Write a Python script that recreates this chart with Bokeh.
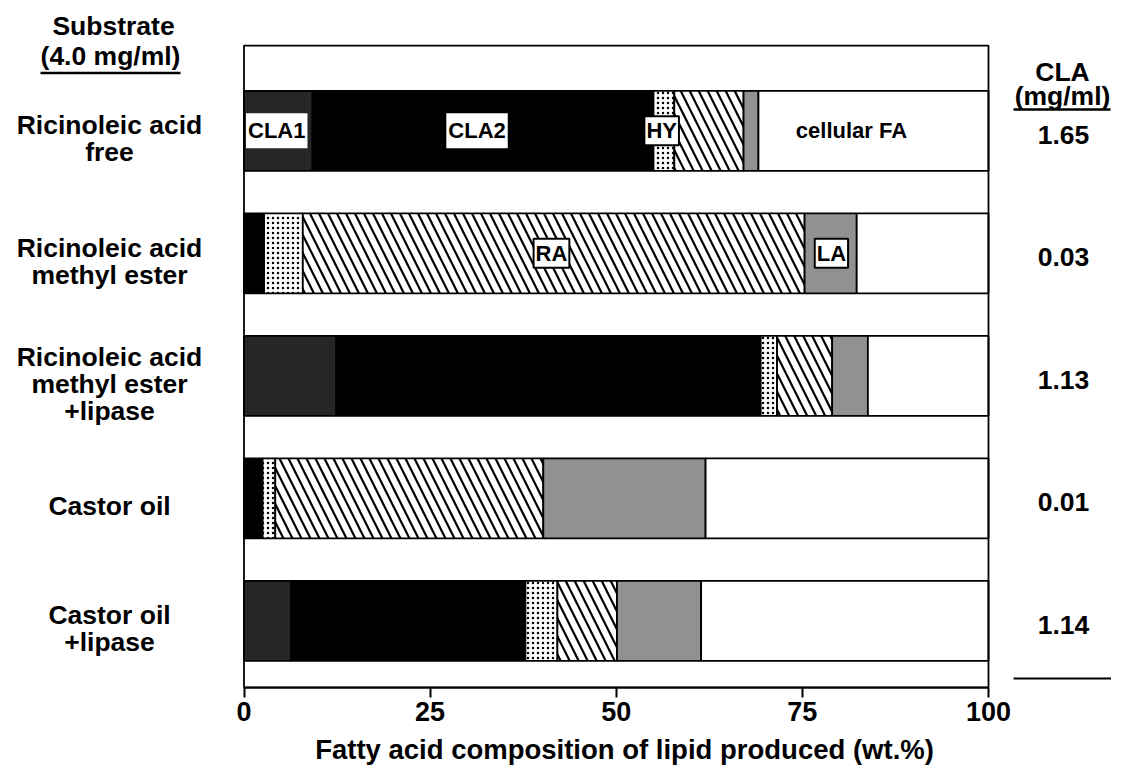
import numpy as np
from bokeh.plotting import figure
from bokeh.models import Range1d, Label, FixedTicker, LinearAxis
from bokeh.embed import file_html
from bokeh.resources import INLINE

# ---------------- data ----------------
substrates = [
    ["Ricinoleic acid", "free"],
    ["Ricinoleic acid", "methyl ester"],
    ["Ricinoleic acid", "methyl ester", "+lipase"],
    ["Castor oil"],
    ["Castor oil", "+lipase"],
]
cla_mg_ml = ["1.65", "0.03", "1.13", "0.01", "1.14"]

components = ["CLA1", "CLA2", "HY", "RA", "LA", "cellular FA"]
cla1 = [9.2, 0.0, 12.4, 0.0, 6.3]
cla2 = [45.8, 2.7, 57.0, 2.5, 31.5]
hy = [2.8, 5.2, 2.2, 1.7, 4.3]
ra = [9.3, 67.4, 7.4, 36.0, 8.0]
la = [2.0, 7.0, 4.8, 21.8, 11.3]
cellular_fa = [30.9, 17.7, 16.2, 38.0, 38.6]

x_ticks = [0, 25, 50, 75, 100]
x_title = "Fatty acid composition of lipid produced (wt.%)"

# ---------------- layout / styles ----------------
FONT = "Liberation Sans"
W, H = 1111, 770
PX_PER_X = 7.445       # pixels per wt.%
X0_PX = 243.5          # pixel of 0 %
PX_PER_Y = 122.5       # pixels per bar slot
Y0_PX = 130.3          # pixel of first bar centre
BOX_TOP, BOX_BOTTOM = -0.696, 4.545   # plot box edges in slot units
TXT = "26.5px"

styles = {
    "CLA1": dict(fill_color="#262626"),
    "CLA2": dict(fill_color="#000000"),
    "HY": dict(fill_color="white", hatch_pattern=".", hatch_color="black",
               hatch_scale=5, hatch_weight=3),
    "RA": dict(fill_color="white", hatch_pattern="\\", hatch_color="black",
               hatch_scale=18, hatch_weight=2.2),
    "LA": dict(fill_color="#919191"),
    "cellular FA": dict(fill_color="white"),
}

p = figure(width=W, height=H,
           x_range=Range1d(-X0_PX / PX_PER_X, (W - X0_PX) / PX_PER_X),
           y_range=Range1d((H - Y0_PX) / PX_PER_Y, -Y0_PX / PX_PER_Y),
           output_backend="svg", toolbar_location=None,
           x_axis_location=None, y_axis_location=None, min_border=0)
p.xgrid.visible = False
p.ygrid.visible = False
p.outline_line_color = None
p.background_fill_color = "white"
p.border_fill_color = "white"

idx = np.arange(len(substrates))
data = np.array([cla1, cla2, hy, ra, la, cellular_fa], dtype=float)
rights = np.cumsum(data, axis=0)
lefts = rights - data
bar_h = 0.653
for k, name in enumerate(components):
    p.hbar(y=idx, left=lefts[k], right=rights[k], height=bar_h,
           line_color="black", line_width=1.8, **styles[name])

# plot box
p.quad(left=x_ticks[0], right=x_ticks[-1], top=BOX_TOP, bottom=BOX_BOTTOM,
       fill_color=None, line_color="black", line_width=1.8)

ax = LinearAxis(fixed_location=BOX_BOTTOM, bounds=(x_ticks[0], x_ticks[-1]))
ax.ticker = FixedTicker(ticks=x_ticks)
ax.major_tick_out = 10
ax.major_tick_in = 0
ax.minor_tick_out = 0
ax.minor_tick_in = 0
ax.axis_line_width = 1.8
ax.axis_line_color = "black"
ax.major_tick_line_width = 2
ax.major_tick_line_color = "black"
ax.major_label_text_font = FONT
ax.major_label_text_font_style = "bold"
ax.major_label_text_font_size = "27px"
ax.major_label_text_color = "black"
ax.major_label_standoff = 4
p.add_layout(ax, "below")


def X(px):
    return (px - X0_PX) / PX_PER_X


def Y(py):
    return (py - Y0_PX) / PX_PER_Y


def lab(x, y, text, size=TXT, **kw):
    p.add_layout(Label(x=x, y=y, text=text, text_font=FONT, text_font_style="bold",
                       text_font_size=size, text_color="black", text_align="center",
                       text_baseline="middle", **kw))


def hline(px0, px1, py, w=2.5):
    p.segment(x0=X(px0), y0=Y(py), x1=X(px1), y1=Y(py), line_color="black", line_width=w)


# left substrate labels
line_sp = 27 / PX_PER_Y
for i, lines in enumerate(substrates):
    n = len(lines)
    for k, t in enumerate(lines):
        lab(X(109), i + 8 / PX_PER_Y + (k - (n - 1) / 2) * line_sp, t)

# right CLA values
for i, v in enumerate(cla_mg_ml):
    lab(X(1063), i + 4 / PX_PER_Y, v)

# headers
lab(X(113), Y(25), "Substrate")
lab(X(110), Y(55), "(4.0 mg/ml)")
hline(40, 180, 72.5)
lab(X(1062), Y(71), "CLA")
lab(X(1062), Y(95), "(mg/ml)")
hline(1013, 1110, 109)
hline(1013, 1127, 678, w=2)

# segment labels
dark_kw = dict(background_fill_color="white",
               padding=dict(left=2, right=2, top=5, bottom=5))
box_kw = dict(background_fill_color="white", border_line_color="black",
              border_line_width=2, padding=2)
SEG = "22px"
lab(4.4, 0.0, "CLA1", size=SEG, **dark_kw)
lab(31.3, 0.0, "CLA2", size=SEG, **dark_kw)
lab(56.1, 0.0, "HY", size=SEG, **box_kw)
lab(X(851), 0.0, "cellular FA", size=SEG)
lab(41.3, 1.0, "RA", size=SEG, **box_kw)
lab(78.9, 1.0, "LA", size=SEG, **box_kw)

# x-axis title
lab(X(624), Y(749), x_title, size="27.5px")

open("out.html", "w").write(file_html(p, INLINE))
